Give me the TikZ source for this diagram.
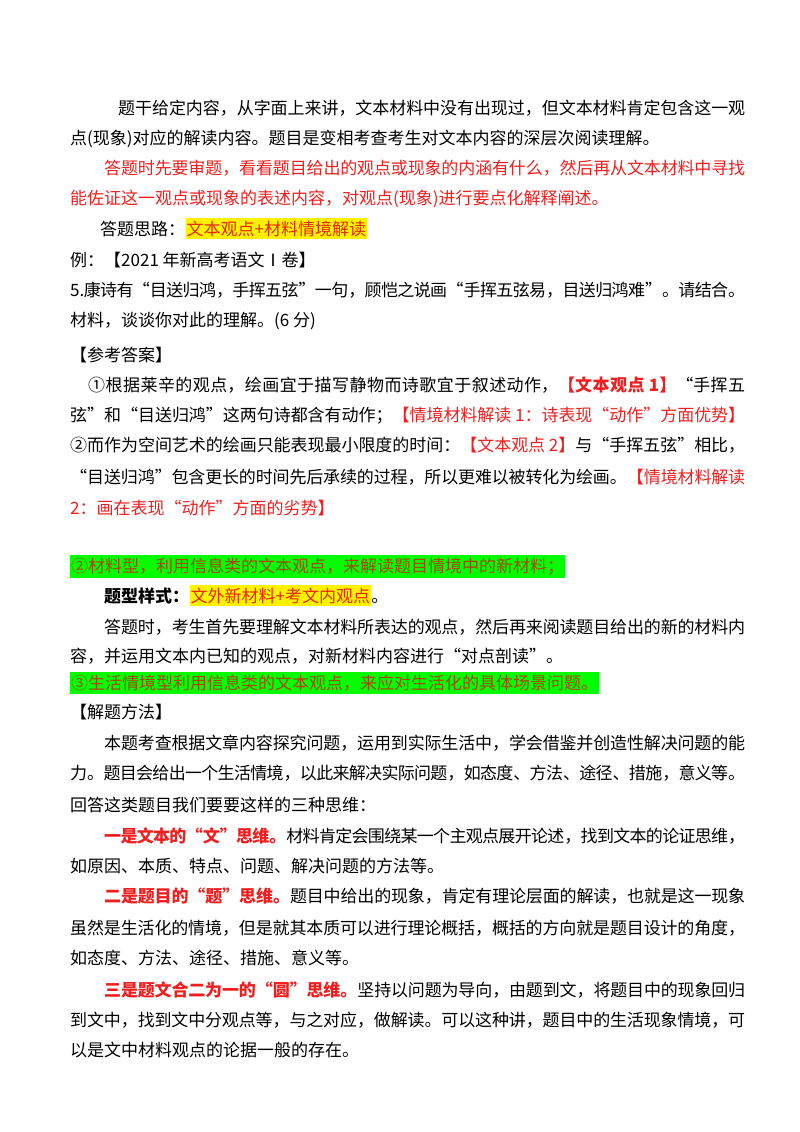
\documentclass[tikz,border=0pt]{standalone}
\usepackage{fontspec}
\setmainfont{Noto Sans CJK SC}
\XeTeXlinebreaklocale "zh"
\XeTeXlinebreakskip=0pt plus 2pt minus 1pt
\newcommand\JL[2]{\parbox[b]{#1pt}{\noindent\parfillskip=0pt\relax #2}}
\definecolor{myred}{RGB}{240,30,30}
\definecolor{hlred}{RGB}{230,40,0}
\definecolor{hlgreen}{RGB}{0,255,0}
\definecolor{hltext}{RGB}{170,70,0}
\begin{document}
\begin{tikzpicture}[x=1pt,y=1pt,
  every node/.style={anchor=base west,inner sep=0pt,font=\fontsize{17}{20}\selectfont},
  yhl/.style={fill=yellow,text=hlred,inner ysep=3pt,inner xsep=1pt},
  ghl/.style={fill=hlgreen,text=hltext,inner ysep=3pt,inner xsep=1pt}]
\useasboundingbox (0,0) rectangle (800,-1132);
\node (l1) at (118,-114) {\JL{627}{题干给定内容，从字面上来讲，文本材料中没有出现过，但文本材料肯定包含这一观}};
\node (l2) at (70,-144) {点(现象)对应的解读内容。题目是变相考查考生对文本内容的深层次阅读理解。};
\node[text=myred] (l3) at (104,-174) {\JL{641}{答题时先要审题，看看题目给出的观点或现象的内涵有什么，然后再从文本材料中寻找}};
\node[text=myred] (l4) at (70,-204) {能佐证这一观点或现象的表述内容，对观点(现象)进行要点化解释阐述。};
\node (l5) at (100,-235) {答题思路：};
\node[yhl] (h1) at (l5.base east) {文本观点+材料情境解读};
\node (l6) at (70,-266) {例：【2021 年新高考语文Ⅰ卷】};
\node (l7) at (70,-296) {\JL{675}{5.康诗有“目送归鸿，手挥五弦”一句，顾恺之说画“手挥五弦易，目送归鸿难”。请结合。}};
\node (l8) at (70,-326) {材料，谈谈你对此的理解。(6 分)};
\node (l9) at (70,-361) {【参考答案】};
\node (l10) at (88,-391) {\JL{657}{①根据莱辛的观点，绘画宜于描写静物而诗歌宜于叙述动作，{\color{myred}\bfseries【文本观点 1】}“手挥五}};
\node (l11) at (70,-421) {\JL{675}{弦”和“目送归鸿”这两句诗都含有动作；{\color{myred}【情境材料解读 1：诗表现“动作”方面优势】}}};
\node (l12) at (70,-451) {\JL{675}{②而作为空间艺术的绘画只能表现最小限度的时间：{\color{myred}【文本观点 2】}与“手挥五弦”相比，}};
\node (l13) at (70,-483) {\JL{675}{“目送归鸿”包含更长的时间先后承续的过程，所以更难以被转化为绘画。{\color{myred}【情境材料解读}}};
\node[text=myred] (l14) at (70,-514) {2：画在表现“动作”方面的劣势】};
\node[ghl] (l15) at (70,-572) {②材料型，利用信息类的文本观点，来解读题目情境中的新材料；};
\node[font=\fontsize{17}{20}\selectfont\bfseries] (l16) at (104,-602) {题型样式：};
\node[yhl] (h2) at (l16.base east) {文外新材料+考文内观点};
\node (l16b) at (h2.base east) {。};
\node (l17) at (104,-633) {\JL{641}{答题时，考生首先要理解文本材料所表达的观点，然后再来阅读题目给出的新的材料内}};
\node (l18) at (70,-662) {容，并运用文本内已知的观点，对新材料内容进行“对点剖读”。};
\node[ghl] (l19) at (70,-689) {③生活情境型利用信息类的文本观点，来应对生活化的具体场景问题。};
\node (l20) at (70,-718) {【解题方法】};
\node (l21) at (104,-749) {\JL{641}{本题考查根据文章内容探究问题，运用到实际生活中，学会借鉴并创造性解决问题的能}};
\node (l22) at (70,-779) {\JL{675}{力。题目会给出一个生活情境，以此来解决实际问题，如态度、方法、途径、措施，意义等。}};
\node (l23) at (70,-811) {回答这类题目我们要要这样的三种思维：};
\node (l24) at (104,-842) {\JL{641}{{\color{myred}\bfseries 一是文本的“文”思维。}材料肯定会围绕某一个主观点展开论述，找到文本的论证思维，}};
\node (l25) at (70,-872) {如原因、本质、特点、问题、解决问题的方法等。};
\node (l26) at (104,-902) {\JL{641}{{\color{myred}\bfseries 二是题目的“题”思维。}题目中给出的现象，肯定有理论层面的解读，也就是这一现象}};
\node (l27) at (70,-934) {\JL{675}{虽然是生活化的情境，但是就其本质可以进行理论概括，概括的方向就是题目设计的角度，}};
\node (l28) at (70,-964) {如态度、方法、途径、措施、意义等。};
\node (l29) at (104,-996) {\JL{641}{{\color{myred}\bfseries 三是题文合二为一的“圆”思维。}坚持以问题为导向，由题到文，将题目中的现象回归}};
\node (l30) at (70,-1026) {\JL{675}{到文中，找到文中分观点等，与之对应，做解读。可以这种讲，题目中的生活现象情境，可}};
\node (l31) at (70,-1056) {以是文中材料观点的论据一般的存在。};
\end{tikzpicture}
\end{document}
